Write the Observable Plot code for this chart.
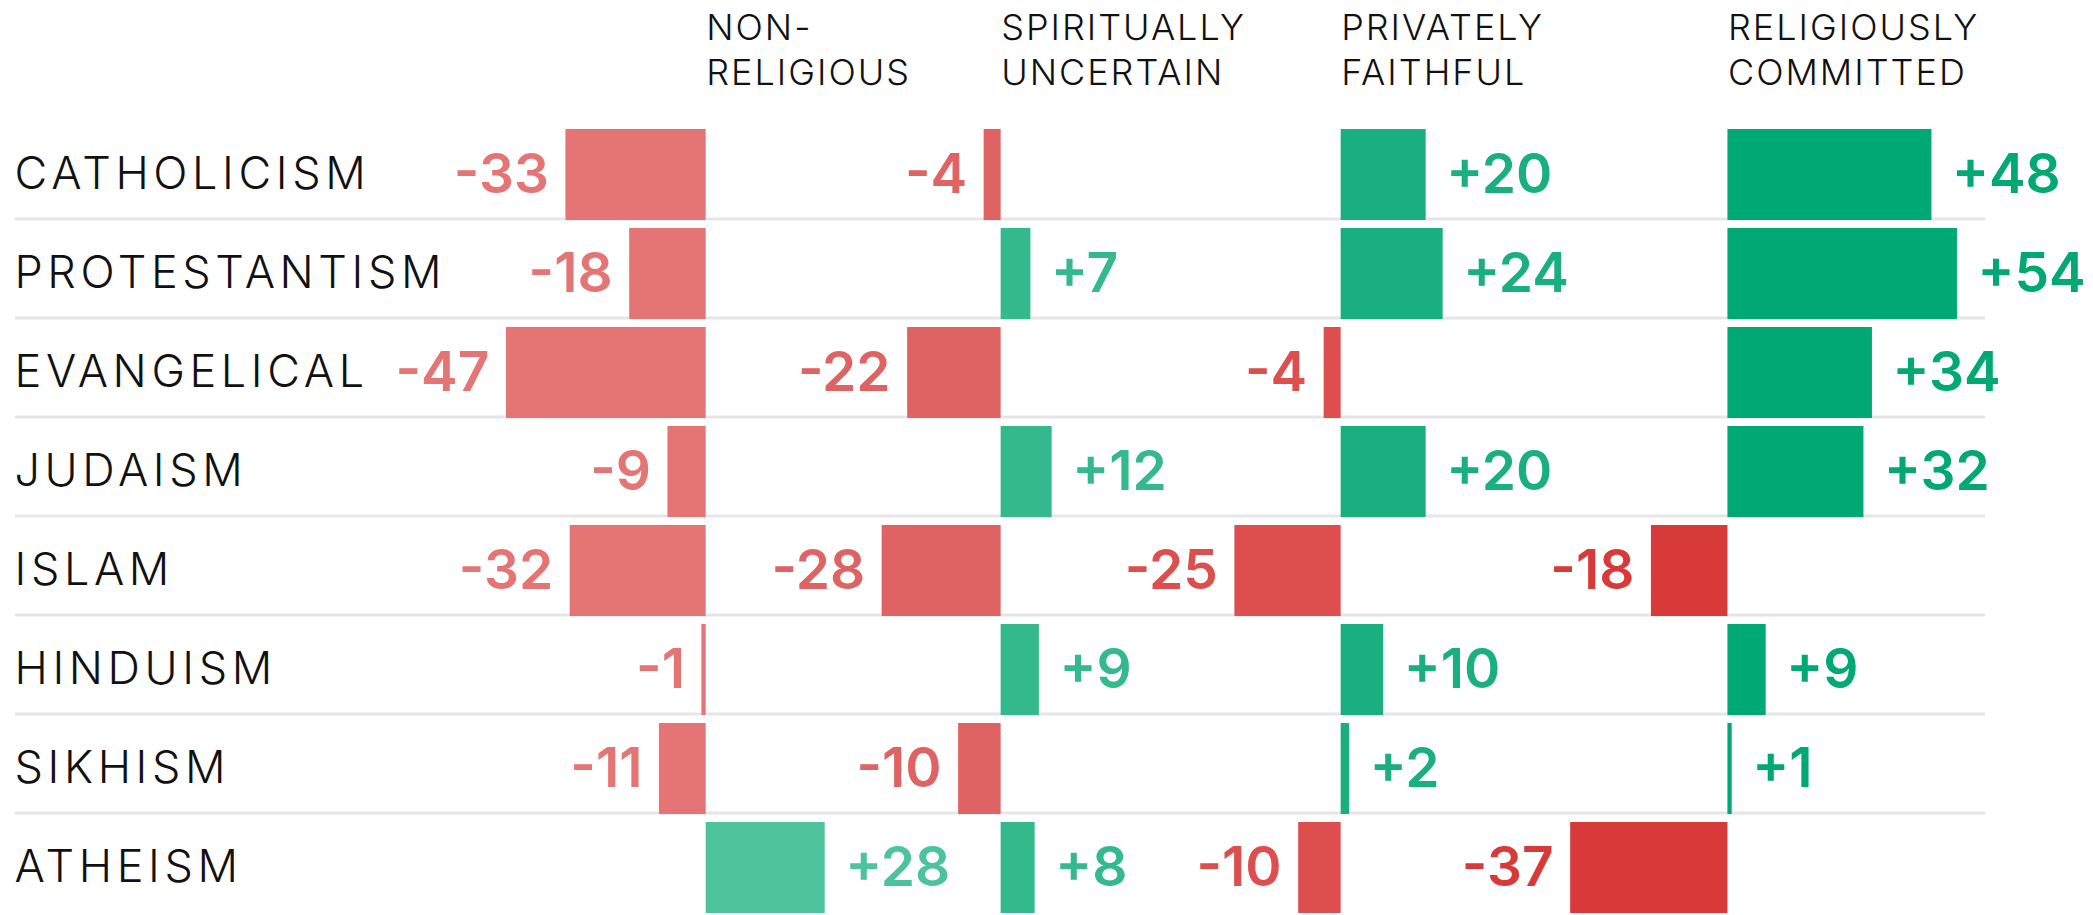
<!DOCTYPE html>
<html><head><meta charset="utf-8">
<script src="https://cdn.jsdelivr.net/npm/d3@7"></script>
<script src="https://cdn.jsdelivr.net/npm/@observablehq/plot@0.6"></script>
<style>body{margin:0;background:#fff} svg{display:block}</style>
</head><body><div id="chart"></div>
<script>
// ---- data ----
const religions = ["CATHOLICISM","PROTESTANTISM","EVANGELICAL","JUDAISM","ISLAM","HINDUISM","SIKHISM","ATHEISM"];
const groups = ["NON-\nRELIGIOUS","SPIRITUALLY\nUNCERTAIN","PRIVATELY\nFAITHFUL","RELIGIOUSLY\nCOMMITTED"];
const nonReligious = [-33,-18,-47,-9,-32,-1,-11,28];
const spirituallyUncertain = [-4,7,-22,12,-28,9,-10,8];
const privatelyFaithful = [20,24,-4,20,-25,10,2,-10];
const religiouslyCommitted = [48,54,34,32,-18,9,1,-37];

// ---- layout & style ----
const columnStart = [0.6, 70, 150, 241];
const negColors = ["#e57574","#e06363","#dd4f4f","#d83a3a"];
const posColors = ["#4cc39b","#33b98c","#1aaf7f","#00a873"];

const series = [nonReligious, spirituallyUncertain, privatelyFaithful, religiouslyCommitted];
const table = series.flatMap((vals, c) => vals.map((v, i) => ({
  religion: religions[i], c, v,
  x1: columnStart[c], x2: columnStart[c] + v,
  color: v < 0 ? negColors[c] : posColors[c],
  label: (v > 0 ? "+" : "") + v
})));

const chart = Plot.plot({
  width: 2093, height: 915,
  marginTop: 129, marginBottom: 0, marginLeft: 15, marginRight: 108,
  x: {domain: [-161.9, 301.6], axis: null},
  y: {domain: religions, axis: null, paddingInner: 0.08, paddingOuter: 0, align: 0},
  color: {type: "identity"},
  style: {fontFamily: "Inter, 'Noto Sans', sans-serif", background: "#fff"},
  marks: [
    Plot.ruleY(religions.slice(0, -1), {y: d => d, dy: 44, stroke: "#e6e6e6", strokeWidth: 3}),
    Plot.barX(table, {x1: "x1", x2: "x2", y: "religion", fill: "color"}),
    Plot.text(table.filter(d => d.v < 0), {x: "x2", y: "religion", text: "label", fill: "color",
      textAnchor: "end", dx: -17, fontSize: 55, fontWeight: 600}),
    Plot.text(table.filter(d => d.v > 0), {x: "x2", y: "religion", text: "label", fill: "color",
      textAnchor: "start", dx: 20, fontSize: 55, fontWeight: 600}),
    Plot.text(religions, {y: d => d, text: d => d, frameAnchor: "left", textAnchor: "start",
      dx: -1, fontSize: 45, fontWeight: 350, fill: "#111"}),
    Plot.text(groups, {x: (d, i) => columnStart[i], text: d => d, frameAnchor: "top",
      lineAnchor: "bottom", textAnchor: "start", dy: -45, fontSize: 36, lineHeight: 1.25,
      fontWeight: 320, fill: "#111"})
  ]
});
const textGroups = chart.querySelectorAll('g[aria-label="text"]');
textGroups[2].style.letterSpacing = "4.6px";
textGroups[3].style.letterSpacing = "2px";
document.getElementById("chart").append(chart);
</script>
</body></html>
